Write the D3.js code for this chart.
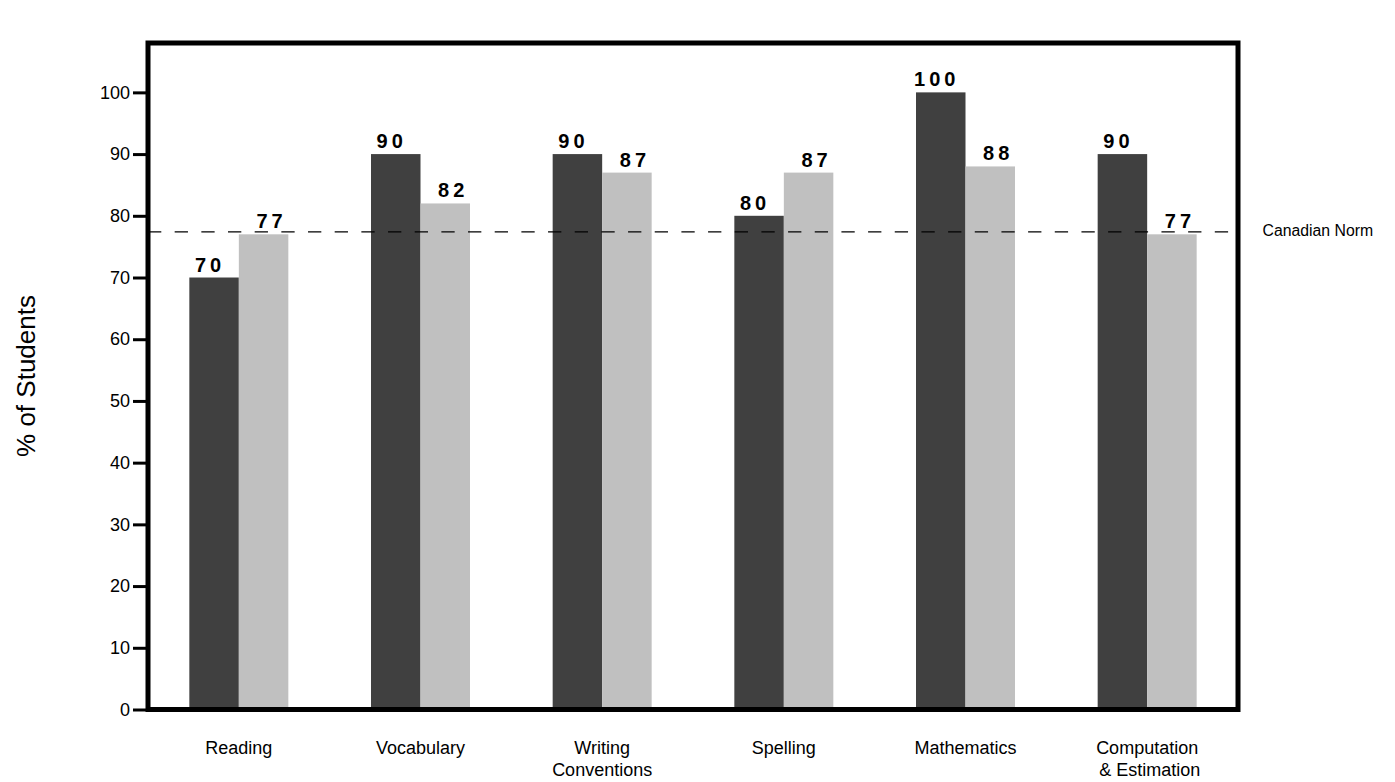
<!DOCTYPE html>
<html>
<head>
<meta charset="utf-8">
<script src="https://cdn.jsdelivr.net/npm/d3@7"></script>
<style>
    body { margin: 0; background: #fff; }
    text { font-family: "Liberation Sans", Arial, Helvetica, sans-serif; }
</style>
</head>
<body>
<script>
//Data
    const categories = ["Reading", "Vocabulary", "Writing\nConventions", "Spelling", "Mathematics", "Computation\n & Estimation"];
    const darkValues = [70, 90, 90, 80, 100, 90];
    const lightValues = [77, 82, 87, 87, 88, 77];
    const yTicks = [0, 10, 20, 30, 40, 50, 60, 70, 80, 90, 100];
    const normValue = 77.4;
    const normLabel = "Canadian Norm";

//Variables
    const width = 1395;
    const height = 782;
    const frame = {left: 148, right: 1238, top: 43, bottom: 709.5};

    const svg = d3.select("body")
        .append("svg")
        .attr("width", width)
        .attr("height", height);

//Scales
    const xScale = d3.scaleBand()
        .domain(categories)
        .range([frame.left, frame.right]);

    const subScale = d3.scaleBand()
        .domain(["dark", "light"])
        .range([0, xScale.bandwidth()])
        .paddingOuter(0.835);

    const yScale = d3.scaleLinear()
        .domain([0, 108])
        .range([frame.bottom, frame.top]);

    const rows = categories.map((c, i) => ({cat: c, dark: darkValues[i], light: lightValues[i]}));

//Bars
    const groups = svg.selectAll(".group")
        .data(rows)
        .enter()
        .append("g")
        .attr("class", "group")
        .attr("transform", d => `translate(${xScale(d.cat)},0)`);

    const colors = {dark: "#404040", light: "#c0c0c0"};
    const labelShift = {dark: -4, light: 8};

    groups.selectAll("rect")
        .data(d => ["dark", "light"].map(k => ({key: k, value: d[k]})))
        .enter()
        .append("rect")
        .attr("x", d => subScale(d.key))
        .attr("y", d => yScale(d.value))
        .attr("width", subScale.bandwidth())
        .attr("height", d => yScale(0) - yScale(d.value))
        .attr("fill", d => colors[d.key]);

    groups.selectAll(".val")
        .data(d => ["dark", "light"].map(k => ({key: k, value: d[k]})))
        .enter()
        .append("text")
        .attr("class", "val")
        .attr("x", d => subScale(d.key) + subScale.bandwidth() / 2 + labelShift[d.key])
        .attr("y", d => yScale(d.value) - 6)
        .attr("text-anchor", "middle")
        .style("font-size", "20px")
        .style("font-weight", "bold")
        .style("letter-spacing", "4px")
        .text(d => d.value);

//Norm line
    svg.append("line")
        .attr("x1", frame.left)
        .attr("x2", frame.right)
        .attr("y1", yScale(normValue))
        .attr("y2", yScale(normValue))
        .attr("stroke", "#000")
        .attr("stroke-width", 1.3)
        .attr("stroke-dasharray", "13.3,13.37");

    svg.append("text")
        .attr("x", 1262.5)
        .attr("y", yScale(normValue) + 4.5)
        .style("font-size", "15.8px")
        .text(normLabel);

//Frame
    svg.append("rect")
        .attr("x", frame.left)
        .attr("y", frame.top)
        .attr("width", frame.right - frame.left)
        .attr("height", frame.bottom - frame.top)
        .attr("fill", "none")
        .attr("stroke", "#000")
        .attr("stroke-width", 5);

//yAxis
    const yAxis = d3.axisLeft(yScale)
        .tickValues(yTicks)
        .tickSize(15)
        .tickPadding(3);

    const yG = svg.append("g")
        .attr("transform", `translate(${frame.left},0)`)
        .call(yAxis);

    yG.select(".domain").remove();
    yG.selectAll(".tick line").attr("stroke-width", 3);
    yG.selectAll(".tick text")
        .style("font-size", "18px")
        .style("font-family", "'Liberation Sans', Arial, sans-serif")
        .attr("fill", "#000");

//Category labels
    const catLabels = svg.selectAll(".cat")
        .data(categories)
        .enter()
        .append("text")
        .attr("class", "cat")
        .attr("text-anchor", "middle")
        .style("font-size", "18px")
        .style("white-space", "pre");

    catLabels.selectAll("tspan")
        .data(d => d.split("\n").map(line => ({line, cat: d})))
        .enter()
        .append("tspan")
        .attr("x", d => xScale(d.cat) + xScale.bandwidth() / 2)
        .attr("y", (d, i) => 754 + i * 22)
        .text(d => d.line);

//Y title
    svg.append("text")
        .attr("transform", "rotate(-90)")
        .attr("x", -376)
        .attr("y", 35)
        .attr("text-anchor", "middle")
        .style("font-size", "26px")
        .text("% of Students");
</script>
</body>
</html>
